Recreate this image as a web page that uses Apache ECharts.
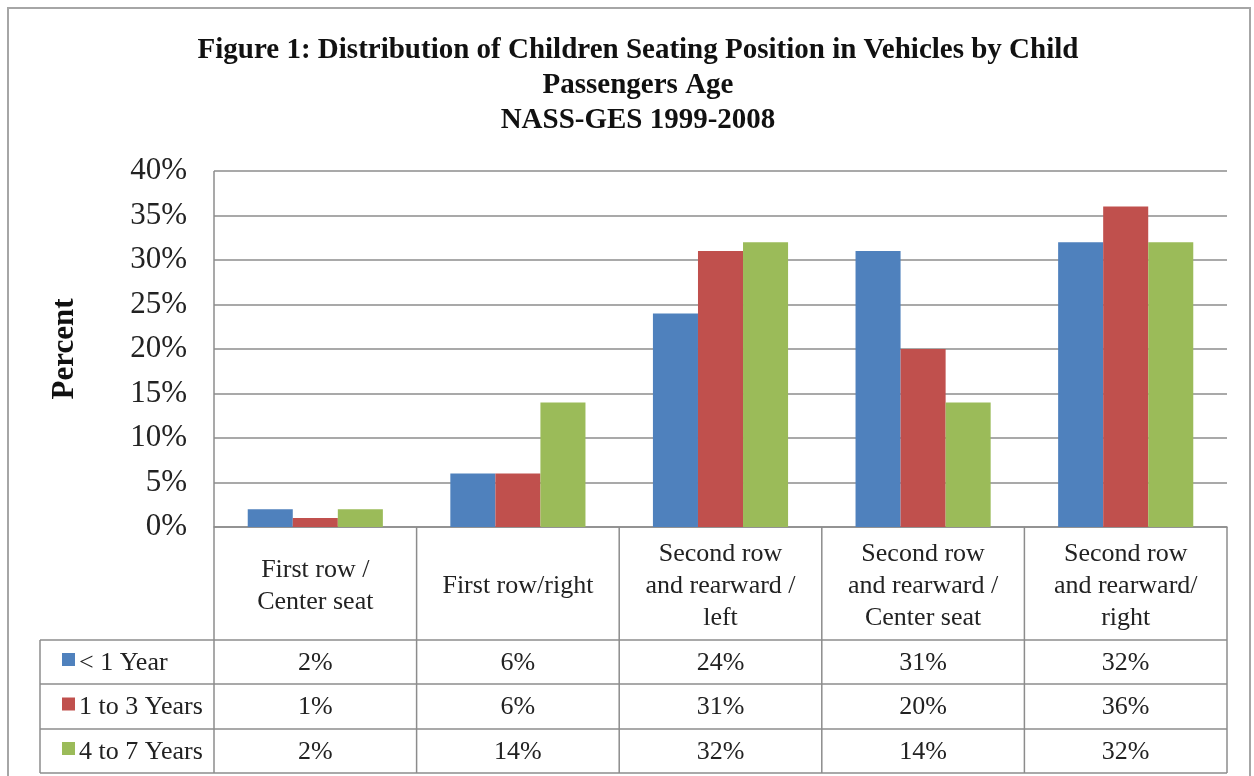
<!DOCTYPE html>
<html style="height: 100%">
<head>
  <meta charset="utf-8">
  <title>Children Seating Position</title>
  <script src="https://cdn.jsdelivr.net/npm/echarts@6/dist/echarts.min.js"></script>
</head>
<body style="height: 100%; margin: 0">
  <div id="main" style="width: 1254px; height: 776px"></div>
  <script type="text/javascript">
    var categories = ['First row /\nCenter seat', 'First row/right', 'Second row\nand rearward /\nleft', 'Second row\nand rearward /\nCenter seat', 'Second row\nand rearward/\nright'];
    var seriesNames = ['< 1 Year', '1 to 3 Years', '4 to 7 Years'];
    var under1 = [2, 6, 24, 31, 32];
    var age1to3 = [1, 6, 31, 20, 36];
    var age4to7 = [2, 14, 32, 14, 32];
    var yTicks = [0, 5, 10, 15, 20, 25, 30, 35, 40];

    var colors = ['#4f81bd', '#c0504d', '#9bbb59'];
    var allSeries = [under1, age1to3, age4to7];
    var font = '"Liberation Serif", "Times New Roman", serif';
    var lineColor = '#8c8c8c';

    // plot area + table geometry
    var L = 214, R = 1227, T = 171, B = 527;
    var rowLines = [640, 684, 729, 773];
    var tableLeft = 40;
    var cw = (R - L) / categories.length;

    var graphics = [];
    function hline(x1, x2, y) {
      graphics.push({ type: 'line', shape: { x1: x1, y1: y, x2: x2, y2: y }, style: { stroke: lineColor, lineWidth: 1.5 }, silent: true });
    }
    function vline(x, y1, y2) {
      graphics.push({ type: 'line', shape: { x1: x, y1: y1, x2: x, y2: y2 }, style: { stroke: lineColor, lineWidth: 1.5 }, silent: true });
    }
    // outer chart border
    graphics.push({ type: 'rect', shape: { x: 8, y: 8, width: 1242, height: 790 }, style: { fill: null, stroke: '#a6a6a6', lineWidth: 2 }, silent: true });

    // table grid
    rowLines.forEach(function (y) { hline(tableLeft, R, y); });
    vline(tableLeft, rowLines[0], rowLines[3]);
    for (var i = 0; i <= categories.length; i++) {
      vline(L + cw * i, i === 0 ? T : B, rowLines[3]);
    }
    // category header text
    categories.forEach(function (c, i) {
      graphics.push({
        type: 'text', x: L + cw * (i + 0.5), y: (B + rowLines[0]) / 2 + 3,
        style: { text: c, font: '26px ' + font, fill: '#222', align: 'center', verticalAlign: 'middle', lineHeight: 32 }, silent: true
      });
    });
    // data rows
    allSeries.forEach(function (vals, r) {
      var cy = (rowLines[r] + rowLines[r + 1]) / 2 + 1;
      graphics.push({ type: 'rect', shape: { x: 62, y: cy - 10, width: 13, height: 13 }, style: { fill: colors[r] }, silent: true });
      graphics.push({
        type: 'text', x: 79, y: cy,
        style: { text: seriesNames[r], font: '26px ' + font, fill: '#222', align: 'left', verticalAlign: 'middle' }, silent: true
      });
      vals.forEach(function (v, i) {
        graphics.push({
          type: 'text', x: L + cw * (i + 0.5), y: cy,
          style: { text: v + '%', font: '26px ' + font, fill: '#222', align: 'center', verticalAlign: 'middle' }, silent: true
        });
      });
    });

    var option = {
      animation: false,
      backgroundColor: '#fff',
      title: {
        text: 'Figure 1: Distribution of Children Seating Position in Vehicles by Child\nPassengers Age\nNASS-GES 1999-2008',
        left: 633,
        textAlign: 'center',
        top: 28,
        textStyle: { fontFamily: font, fontWeight: 'bold', fontSize: 29, color: '#111', lineHeight: 35 }
      },
      grid: { left: L, right: 1254 - R, top: T, bottom: 776 - B, containLabel: false },
      xAxis: {
        type: 'category',
        data: categories,
        axisLine: { lineStyle: { color: lineColor, width: 1.5 } },
        axisTick: { show: false },
        axisLabel: { show: false }
      },
      yAxis: {
        type: 'value',
        min: yTicks[0],
        max: yTicks[yTicks.length - 1],
        interval: 5,
        name: 'Percent',
        nameLocation: 'middle',
        nameRotate: 90,
        nameGap: 134,
        nameTextStyle: { fontFamily: font, fontWeight: 'bold', fontSize: 31, color: '#111' },
        axisLine: { show: false },
        axisTick: { show: false },
        axisLabel: { formatter: '{value}%', fontFamily: font, fontSize: 31, color: '#222', margin: 27 },
        splitLine: { lineStyle: { color: lineColor, width: 1.5 } }
      },
      series: allSeries.map(function (vals, i) {
        return {
          name: seriesNames[i],
          type: 'bar',
          data: vals,
          barGap: '0%',
          barCategoryGap: '33.3%',
          itemStyle: { color: colors[i] }
        };
      }),
      graphic: graphics
    };

    var chart = echarts.init(document.getElementById('main'));
    chart.setOption(option);
  </script>
</body>
</html>
